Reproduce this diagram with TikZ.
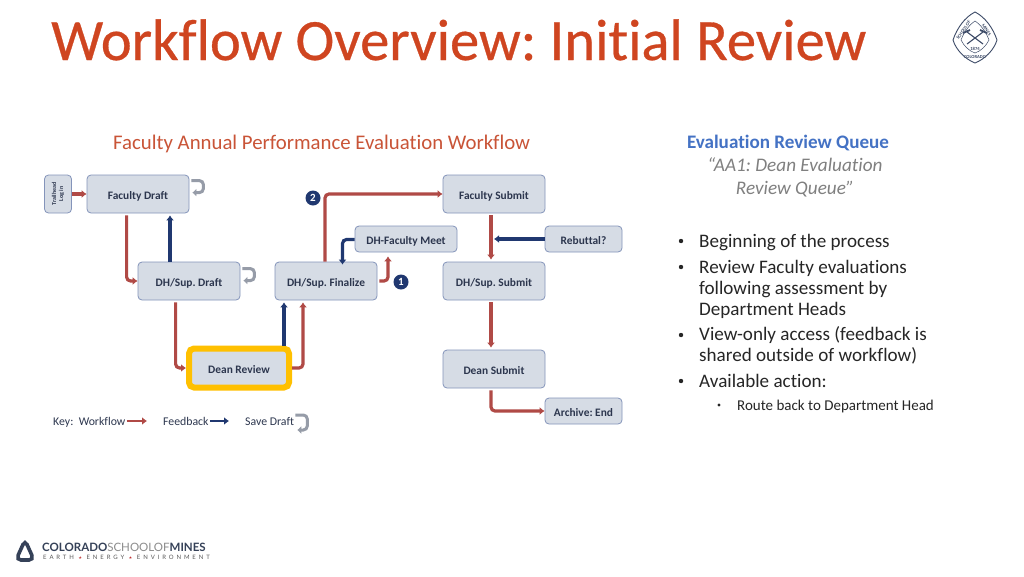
\documentclass[tikz,border=0pt]{standalone}
\usepackage{fontspec}
\setmainfont[Ligatures=NoCommon]{Carlito}
\newfontfamily\titlefont[Ligatures=NoCommon,FakeBold=0.5]{Carlito}
\newfontfamily\logofont{Lato}
\newfontfamily\logospaced[LetterSpace=48]{Lato}
\usetikzlibrary{arrows.meta,positioning,calc}
\definecolor{titlered}{RGB}{207,69,32}
\definecolor{headred}{RGB}{201,84,55}
\definecolor{flowred}{RGB}{176,74,70}
\definecolor{backblue}{RGB}{32,56,112}
\definecolor{boxfill}{RGB}{214,220,229}
\definecolor{boxline}{RGB}{132,148,186}
\definecolor{boxtext}{RGB}{44,54,78}
\definecolor{linkblue}{RGB}{68,114,196}
\definecolor{gold}{RGB}{255,192,0}
\definecolor{saveg}{RGB}{150,156,168}
\definecolor{sealblue}{RGB}{62,76,104}
\tikzset{font=\fontsize{11}{13}\selectfont}
\tikzset{
  box/.style={draw=boxline, fill=boxfill, rounded corners=4pt, line width=.8pt, text=boxtext,
    font=\fontsize{11.4}{12}\selectfont\bfseries, inner sep=0pt, minimum width=102pt, minimum height=38pt,
    text height=11pt, text depth=1pt},
  smallbox/.style={box, minimum width=77pt, minimum height=26pt},
  workflow/.style={draw=flowred, line width=3.2pt, rounded corners=4pt, -{Latex[length=5pt,width=8pt]}},
  feedback/.style={draw=backblue, line width=3.2pt, rounded corners=4pt, -{Latex[length=5pt,width=8pt]}},
  savedraft/.style={draw=saveg, line width=3pt, rounded corners=4pt, -{Latex[length=4pt,width=8pt]}},
  badge/.style={circle, fill=backblue, text=white, inner sep=0pt, minimum size=15pt,
    font=\fontsize{11}{11}\selectfont\bfseries},
  keytext/.style={anchor=base west, inner sep=0pt, text=boxtext, font=\fontsize{11.8}{12}\selectfont},
  bodytext/.style={anchor=base west, inner sep=0pt, text=black!85, font=\fontsize{19.1}{19}\selectfont},
  quotetext/.style={anchor=base, inner sep=0pt, text=black!50, font=\fontsize{19.2}{19}\selectfont\itshape},
  sealtext/.style={inner sep=0pt, text=sealblue, font=\fontsize{4.6}{5}\selectfont\bfseries},
  dot/.style={circle, fill=black!85, inner sep=0pt, minimum size=4.4pt}
}
\begin{document}
\frenchspacing
\begin{tikzpicture}[x=1pt,y=-1pt]
  \useasboundingbox (0,0) rectangle (1024,576);
  \fill[white] (0,0) rectangle (1024,576);
% title
  \node[anchor=base west, inner sep=0pt, text=titlered, font=\titlefont\fontsize{58.5}{58}\selectfont] (title) at (51,60)
    {Workflow Overview: Initial Review};
  \node[anchor=base west, inner sep=0pt, text=headred, font=\fontsize{20.8}{20}\selectfont] (flowhead) at (113,149)
    {Faculty Annual Performance Evaluation Workflow};
% boxes
  \node[box, font=\fontsize{6}{7}\selectfont\bfseries, rotate=90, minimum width=38pt, minimum height=27pt,
    align=center, text height=, text depth=] (login) at (58,194) {Trailhead\\Log in};
  \node[box] (fdraft) at (138,194) {Faculty Draft};
  \node[box] (dhdraft) at (189,281) {DH/Sup. Draft};
  \node[box] (dhfinal) at (326,281) {DH/Sup. Finalize};
  \node[box, draw=gold, line width=6pt, rounded corners=5pt, minimum width=100pt, minimum height=39pt] (dean) at (239,368) {Dean Review};
  \node[box] (fsubmit) at (494,194) {Faculty Submit};
  \node[smallbox, minimum width=102pt] (meet) at (406,239) {DH-Faculty Meet};
  \node[smallbox] (rebut) at (583.5,239) {Rebuttal?};
  \node[box] (dhsubmit) at (494,281) {DH/Sup. Submit};
  \node[box] (dsubmit) at (494,369) {Dean Submit};
  \node[smallbox] (archive) at (583.5,411) {Archive: End};
  \node[badge] (one) at (401,282) {1};
  \node[badge] (two) at (313,198) {2};
% connectors
  \draw[workflow] (login) -- (fdraft);
  \draw[workflow] ([shift={(40,2)}]fdraft.south west) |- (dhdraft.west);
  \draw[feedback] ([shift={(-19,0)}]dhdraft.north) -- ([shift={(32,2)}]fdraft.south);
  \draw[workflow] ([shift={(38,2)}]dhdraft.south west) |- (dean.west);
  \draw[feedback] ([xshift=-42pt]dhfinal.south |- dean.north) -- ([shift={(-42,2)}]dhfinal.south);
  \draw[workflow] (dean.east) -| ([shift={(-23,2)}]dhfinal.south);
  \draw[workflow] ([xshift=-1pt]dhfinal.north) |- (fsubmit.west);
  \draw[workflow] ([shift={(2,0)}]dhfinal.east) -| ([shift={(-18,4)}]meet.south);
  \draw[feedback] ([yshift=-.5pt]meet.west) -| ([xshift=16.5pt,yshift=-3pt]dhfinal.north);
  \draw[workflow] ([shift={(-3,2)}]fsubmit.south) -- ([shift={(-3,-2)}]dhsubmit.north);
  \draw[feedback] (rebut.west) -- (fsubmit.south |- rebut.west);
  \draw[workflow] ([shift={(-3,2)}]dhsubmit.south) -- ([shift={(-3,-2)}]dsubmit.north);
  \draw[workflow] ([shift={(-3,2)}]dsubmit.south) |- (archive.west);
% save draft arrows
  \draw[savedraft] ([shift={(2,6)}]fdraft.north east) -- ++(12,0) -- ++(0,12) -- ++(-11,0);
  \draw[savedraft] ([shift={(2,7)}]dhdraft.north east) -- ++(12,0) -- ++(0,12) -- ++(-11,0);
% key
  \node[keytext] (keyflow) at (53,425) {Key:\ \ Workflow};
  \coordinate (keyflowend) at (147,421);
  \draw[workflow, line width=2.4pt] ([xshift=1pt]keyflow.east |- keyflowend) -- (keyflowend);
  \node[keytext] (keyback) at (163,425) {Feedback};
  \coordinate (keybackend) at (229,421);
  \draw[feedback, line width=2.4pt] ([xshift=1pt]keyback.east |- keybackend) -- (keybackend);
  \node[keytext] (keysave) at (245,425) {Save Draft};
  \draw[savedraft] ([shift={(1,-6)}]keysave.east) -- ++(12,0) -- ++(0,15) -- ++(-10,0);
% right column
  \node[anchor=base, inner sep=0pt, text=linkblue, font=\fontsize{19.1}{19}\selectfont\bfseries] (qhead) at (788,148) {Evaluation Review Queue};
  \node[quotetext] (qname) at (795,171) {“AA1: Dean Evaluation};
  \node[quotetext] (qnameb) at (795,194) {Review Queue”};
  \node[dot] (d1) at (681,241) {};
  \node[bodytext] (t1) at (699,247) {Beginning of the process};
  \node[dot] (d2) at (681,267) {};
  \node[bodytext] (t2) at (699,273) {Review Faculty evaluations};
  \node[bodytext] (t2b) at (699,294) {following assessment by};
  \node[bodytext] (t2c) at (699,315) {Department Heads};
  \node[dot] (d3) at (681,335) {};
  \node[bodytext] (t3) at (699,340) {View-only access (feedback is};
  \node[bodytext] (t3b) at (699,361) {shared outside of workflow)};
  \node[dot] (d4) at (681,381) {};
  \node[bodytext] (t4) at (699,387) {Available action:};
  \node[dot, minimum size=3.4pt] (d5) at (719,405) {};
  \node[bodytext, font=\fontsize{15}{15}\selectfont] (t5) at (737,410) {Route back to Department Head};
% seal
  \draw[sealblue, line width=.9pt] (975,12) .. controls (985,17) and (993,28) .. (997,40)
    .. controls (994,50) and (985,59) .. (975,63) .. controls (965,59) and (956,50) .. (953,40)
    .. controls (957,28) and (965,17) .. (975,12) -- cycle;
  \draw[sealblue, line width=.5pt] (975,21) .. controls (981,25) and (986,32) .. (989,40)
    .. controls (986,46) and (981,51) .. (975,53) .. controls (969,51) and (964,46) .. (961,40)
    .. controls (964,32) and (969,25) .. (975,21) -- cycle;
  \draw[sealblue, line width=1.1pt] (967,32) -- (983,44) (983,32) -- (967,44);
  \draw[sealblue, line width=1.8pt] (963,33) -- (970,30) (980,30) -- (987,33);
  \node[sealtext] (sealyear) at (975,49) {1874};
  \node[sealtext, rotate=56] (sealschool) at (963.5,30) {SCHOOL OF};
  \node[sealtext, rotate=-56] (sealmines) at (986.5,30) {MINES};
  \node[sealtext] (sealstate) at (975,57.5) {COLORADO};
% footer logo
  \draw[sealblue!85!black, line width=3.6pt, rounded corners=5pt] (25,540) -- (34,560) -- (16,560) -- cycle;
  \node[anchor=base west, inner sep=0pt, font=\logofont\fontsize{11.5}{12}\selectfont] (logoa) at (42,551.5)
    {\textcolor{sealblue!85!black}{\bfseries COLORADO}\textcolor{black!45}{SCHOOLOF}\textcolor{sealblue!85!black}{\bfseries MINES}};
  \node[anchor=base west, inner sep=0pt, text=black!65, font=\logospaced\fontsize{6}{6}\selectfont] (logob) at (43,559.5)
    {EARTH \textcolor{red!70!black}{$\star$} ENERGY \textcolor{red!70!black}{$\star$} ENVIRONMENT};
\end{tikzpicture}
\end{document}
